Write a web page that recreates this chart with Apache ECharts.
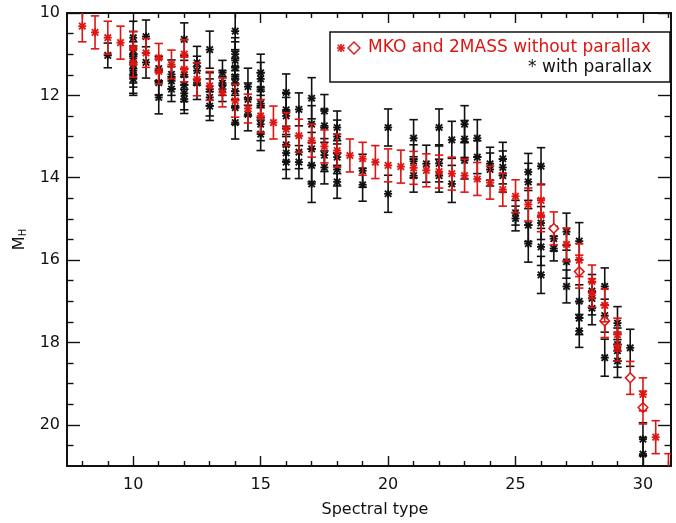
<!DOCTYPE html>
<html><head><meta charset="utf-8">
<script src="https://cdn.jsdelivr.net/npm/echarts@6/dist/echarts.min.js"></script>
<style>html,body{margin:0;padding:0;background:#fff}#c{width:676px;height:523px}</style>
</head><body><div id="c"></div>
<script>
// ---- data: [spectral type, M_H, error] ----
const parallaxPts = [
[9,11.03,0.3],
[10,10.6,0.4],[10,10.9,0.45],[10,11.1,0.4],[10,11.25,0.45],[10,11.4,0.4],[10,11.5,0.45],[10,11.6,0.4],
[10.5,10.57,0.4],[10.5,11.2,0.38],
[11,11.35,0.3],[11,11.69,0.3],[11,12.05,0.4],
[11.5,11.49,0.35],[11.5,11.65,0.35],[11.5,11.85,0.3],
[12,10.64,0.4],[12,11.5,0.35],[12,11.75,0.4],[12,11.95,0.4],[12,12.09,0.35],
[12.5,11.21,0.4],[12.5,11.4,0.35],[12.5,11.7,0.4],
[13,10.89,0.45],[13,11.85,0.4],[13,12.05,0.45],[13,12.26,0.35],
[13.5,11.45,0.3],[13.5,11.7,0.3],[13.5,11.85,0.3],
[14,10.44,0.45],[14,11.0,0.4],[14,11.15,0.45],[14,11.33,0.4],[14,11.55,0.45],[14,11.7,0.4],[14,11.9,0.4],[14,12.3,0.4],[14,12.66,0.4],
[14.5,11.79,0.45],[14.5,12.1,0.4],[14.5,12.46,0.4],
[15,11.45,0.45],[15,11.6,0.4],[15,11.85,0.4],[15,12.2,0.4],[15,12.7,0.4],[15,12.94,0.4],
[16,11.93,0.45],[16,12.35,0.4],[16,12.5,0.45],[16,13.2,0.4],[16,13.4,0.4],[16,13.62,0.4],
[16.5,12.34,0.4],[16.5,13.38,0.4],[16.5,13.62,0.4],
[17,12.07,0.5],[17,12.7,0.45],[17,13.3,0.4],[17,13.7,0.4],[17,14.15,0.45],
[17.5,12.38,0.4],[17.5,12.74,0.4],[17.5,13.45,0.4],[17.5,13.75,0.4],
[18,12.78,0.4],[18,13.0,0.4],[18,13.5,0.4],[18,13.8,0.4],[18,14.1,0.4],
[19,13.83,0.4],[19,14.17,0.4],
[20,12.78,0.45],[20,14.39,0.45],
[21,13.04,0.45],[21,13.6,0.4],[21,13.95,0.4],
[21.5,13.66,0.45],
[22,12.78,0.45],[22,13.65,0.45],[22,13.95,0.4],
[22.5,13.08,0.45],[22.5,14.15,0.45],
[23,12.7,0.45],[23,13.06,0.45],[23,13.58,0.45],
[23.5,13.04,0.45],[23.5,13.5,0.4],
[24,13.66,0.4],[24,13.8,0.4],
[24.5,13.54,0.4],[24.5,13.75,0.4],[24.5,13.95,0.4],
[25,14.85,0.3],[25,14.99,0.3],
[25.5,13.86,0.45],[25.5,14.1,0.45],[25.5,15.15,0.4],[25.5,15.6,0.45],
[26,13.72,0.45],[26,15.1,0.4],[26,15.68,0.45],[26,16.36,0.45],
[26.5,15.48,0.3],[26.5,15.72,0.3],
[27,15.31,0.45],[27,16.04,0.4],[27,16.64,0.4],
[27.5,15.54,0.45],[27.5,17.0,0.4],[27.5,17.41,0.4],[27.5,17.72,0.4],
[28,16.75,0.4],[28,16.93,0.4],[28,17.17,0.4],
[28.5,16.64,0.45],[28.5,17.35,0.4],[28.5,18.37,0.45],
[29,17.53,0.4],[29,18.05,0.4],[29,18.2,0.4],[29,18.45,0.4],
[29.5,18.13,0.45],
[30,20.35,0.4],[30,20.71,0.4]
];
const noParallaxStar = [
[8,10.32,0.38],[8.5,10.47,0.4],[9,10.6,0.4],[9.5,10.72,0.4],
[10,10.85,0.4],[10,11.21,0.35],[10.5,10.97,0.35],
[11,11.09,0.35],[11,11.42,0.3],[11.5,11.25,0.35],
[12,11.0,0.35],[12,11.37,0.3],[12.5,11.61,0.4],
[13,11.77,0.35],[13.5,11.93,0.35],[14,12.13,0.4],[14.5,12.32,0.35],
[15,12.5,0.4],[15.5,12.66,0.4],[16,12.82,0.4],[16.5,12.98,0.4],
[17,13.1,0.4],[17.5,13.24,0.4],[18,13.34,0.4],[18.5,13.46,0.4],
[19,13.54,0.4],[19.5,13.62,0.4],[20,13.7,0.4],[20.5,13.73,0.4],
[21,13.76,0.4],[21.5,13.82,0.4],[22,13.85,0.4],[22.5,13.9,0.4],
[23,13.95,0.4],[23.5,14.03,0.4],[24,14.12,0.4],[24.5,14.29,0.4],
[25,14.45,0.4],[25.5,14.65,0.4],[26,14.55,0.4],[26,14.91,0.4],
[27,15.62,0.4],[27.5,16.0,0.4],[28,16.52,0.4],[28,16.8,0.35],
[28.5,17.1,0.4],[29,17.81,0.4],[29,18.1,0.35],
[30,19.26,0.4],[30.5,20.3,0.4],[31,21.1,0.4]
];
const noParallaxDiamond = [
[26.5,15.23,0.4],[27.5,16.28,0.4],[28.5,17.48,0.4],[29.5,18.86,0.4],[30,19.58,0.4]
];
const xMajor = [10,15,20,25,30];
const xMinor = [8,9,11,12,13,14,16,17,18,19,21,22,23,24,26,27,28,29,31];
const yMajor = [10,12,14,16,18,20];
const yMinor = [10.5,11,11.5,12.5,13,13.5,14.5,15,15.5,16.5,17,17.5,18.5,19,19.5,20.5];

const RED = '#de1512', BLK = '#111111';
const FONT = 'DejaVu Sans';

function starLines(cx, cy, r, color, lw) {
  const d = r * 0.8;
  const st = {stroke: color, lineWidth: lw};
  return [
    {type: 'line', shape: {x1: cx - r, y1: cy, x2: cx + r, y2: cy}, style: st},
    {type: 'line', shape: {x1: cx - d, y1: cy - d, x2: cx + d, y2: cy + d}, style: st},
    {type: 'line', shape: {x1: cx - d, y1: cy + d, x2: cx + d, y2: cy - d}, style: st},
    {type: 'line', shape: {x1: cx, y1: cy - r, x2: cx, y2: cy + r}, style: st}
  ];
}

function makeRender(color, marker) {
  return function (params, api) {
    const x = api.value(0), y = api.value(1), e = api.value(2);
    const c = api.coord([x, y]);
    const t = api.coord([x, y - e]);
    const b = api.coord([x, y + e]);
    const lw = 1.6, cap = 4.2;
    const st = {stroke: color, lineWidth: lw};
    let ch = [
      {type: 'line', shape: {x1: c[0], y1: t[1], x2: c[0], y2: b[1]}, style: st},
      {type: 'line', shape: {x1: c[0] - cap, y1: t[1], x2: c[0] + cap, y2: t[1]}, style: st},
      {type: 'line', shape: {x1: c[0] - cap, y1: b[1], x2: c[0] + cap, y2: b[1]}, style: st}
    ];
    if (marker === 'star') {
      ch = ch.concat(starLines(c[0], c[1], 4, color, 1.8));
    } else {
      const s = 4.8;
      ch.push({type: 'polygon', shape: {points: [[c[0], c[1] - s], [c[0] + s, c[1]], [c[0], c[1] + s], [c[0] - s, c[1]]]}, style: {stroke: color, lineWidth: 1.5, fill: '#fff'}});
    }
    return {type: 'group', children: ch};
  };
}

const axisLineStyle = {color: BLK, width: 2};
function xAx(pos, vals, len, withLabel) {
  return {
    type: 'value', position: pos, min: 7.4, max: 31.1, gridIndex: 0,
    splitLine: {show: false},
    axisLine: {show: len > 8, onZero: false, lineStyle: axisLineStyle},
    axisTick: {show: true, inside: true, length: len, customValues: vals, lineStyle: {color: BLK, width: 1.4}},
    axisLabel: withLabel ? {show: true, customValues: vals, margin: 11, color: '#111', fontFamily: FONT, fontSize: 16} : {show: false},
    name: withLabel ? 'Spectral type' : '', nameLocation: 'middle', nameGap: 36,
    nameTextStyle: {color: '#111', fontFamily: FONT, fontSize: 16, padding: [0, 0, 0, 12]}
  };
}
function yAx(pos, vals, len, withLabel) {
  return {
    type: 'value', position: pos, min: 10, max: 21, inverse: true, gridIndex: 0,
    splitLine: {show: false},
    axisLine: {show: len > 8, onZero: false, lineStyle: axisLineStyle},
    axisTick: {show: true, inside: true, length: len, customValues: vals, lineStyle: {color: BLK, width: 1.4}},
    axisLabel: withLabel ? {show: true, customValues: vals, margin: 7, color: '#111', fontFamily: FONT, fontSize: 16} : {show: false},
    name: withLabel ? 'M{s|H}' : '', nameLocation: 'middle', nameGap: 36, nameRotate: 90,
    nameTextStyle: {color: '#111', fontFamily: FONT, fontSize: 16, rich: {s: {fontSize: 10, fontFamily: FONT, color: '#111', padding: [8, 0, 0, 0]}}}
  };
}

const legendStar = starLines(341, 48, 4, RED, 1.6).map(o => Object.assign(o, {z: 101}));

const chart = echarts.init(document.getElementById('c'), null, {renderer: 'canvas'});
chart.setOption({
  animation: false,
  backgroundColor: '#fff',
  grid: {left: 67, right: 5, top: 13, bottom: 54, containLabel: false},
  xAxis: [xAx('bottom', xMajor, 10, true), xAx('bottom', xMinor, 5, false), xAx('top', xMajor, 10, false), xAx('top', xMinor, 5, false)],
  yAxis: [yAx('left', yMajor, 13, true), yAx('left', yMinor, 6.5, false), yAx('right', yMajor, 13, false), yAx('right', yMinor, 6.5, false)],
  series: [
    {type: 'custom', name: 'with parallax', clip: true, xAxisIndex: 0, yAxisIndex: 0, data: parallaxPts, encode: {x: 0, y: 1}, renderItem: makeRender(BLK, 'star')},
    {type: 'custom', name: 'without parallax diamond', clip: true, xAxisIndex: 0, yAxisIndex: 0, data: noParallaxDiamond, encode: {x: 0, y: 1}, renderItem: makeRender(RED, 'diamond')},
    {type: 'custom', name: 'without parallax', clip: true, xAxisIndex: 0, yAxisIndex: 0, data: noParallaxStar, encode: {x: 0, y: 1}, renderItem: makeRender(RED, 'star')}
  ],
  graphic: [
    {type: 'rect', z: 100, shape: {x: 330, y: 32, width: 340, height: 50}, style: {fill: '#fff', stroke: BLK, lineWidth: 1.5}},
    ...legendStar,
    {type: 'polygon', z: 101, shape: {points: [[354, 42], [360, 48], [354, 54], [348, 48]]}, style: {fill: 'none', stroke: RED, lineWidth: 1.4}},
    {type: 'text', z: 101, x: 368, y: 48, style: {text: 'MKO and 2MASS without parallax', fill: RED, font: '17px "DejaVu Sans"', textVerticalAlign: 'middle', verticalAlign: 'middle'}},
    {type: 'text', z: 101, x: 652, y: 68, style: {text: '* with parallax', fill: BLK, font: '17px "DejaVu Sans"', textAlign: 'right', align: 'right', verticalAlign: 'middle', textVerticalAlign: 'middle'}}
  ]
});
</script></body></html>
